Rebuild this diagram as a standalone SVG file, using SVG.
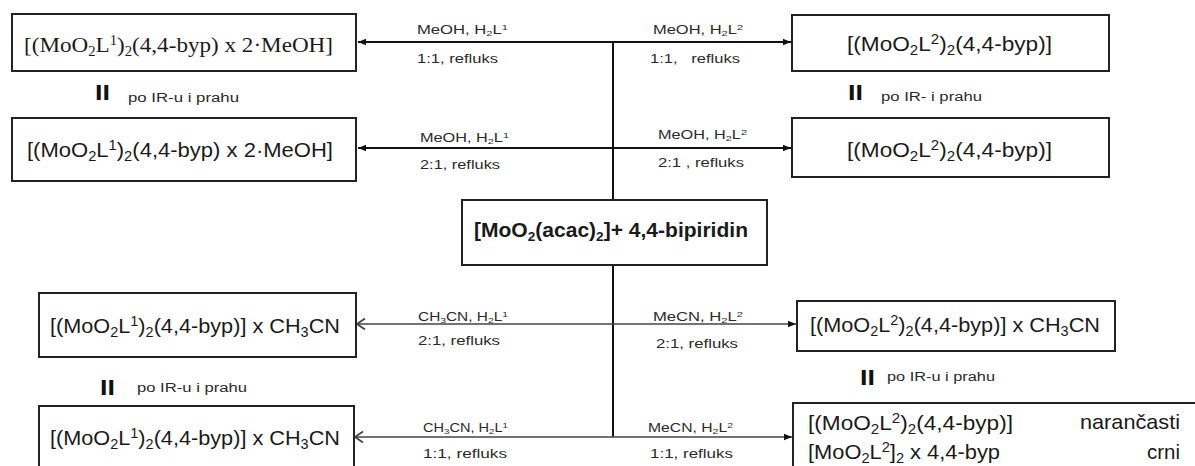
<svg xmlns="http://www.w3.org/2000/svg" width="1195" height="466" viewBox="0 0 1195 466">
<style>
.box{fill:#fff;stroke:#222;stroke-width:2}
.t{font-family:"Liberation Sans",Arial,sans-serif;font-size:21px;fill:#1a1a1a}
.s{font-family:"Liberation Serif","Times New Roman",serif;font-size:22px;fill:#1a1a1a}
.b{font-family:"Liberation Sans",Arial,sans-serif;font-size:20px;font-weight:bold;fill:#1a1a1a}
.l{font-family:"Liberation Sans",Arial,sans-serif;font-size:12px;fill:#2a2a2a}
.ii{font-family:"Liberation Sans",Arial,sans-serif;font-size:22px;font-weight:bold;fill:#111}
.c{stroke:#111;stroke-width:2;fill:none}
.c2{stroke:#444;stroke-width:1.6;fill:none}
</style>
<defs>
<marker id="af" markerUnits="userSpaceOnUse" markerWidth="9" markerHeight="8" refX="8" refY="4" orient="auto">
<path d="M0,0.8 L8,4 L0,7.2 z" fill="#111"/>
</marker>
<marker id="ao" markerUnits="userSpaceOnUse" markerWidth="12" markerHeight="14" refX="10" refY="7" orient="auto">
<path d="M2,1.5 L10,7 L2,12.5" fill="none" stroke="#444" stroke-width="1.8"/>
</marker>
</defs>

<g id="connectors">
<path class="c" d="M613,42 V200"/>
<path class="c" d="M613,42 H358" marker-end="url(#af)"/>
<path class="c" d="M613,42 H791" marker-end="url(#af)"/>
<path class="c" d="M613,148 H358" marker-end="url(#af)"/>
<path class="c" d="M613,148 H791" marker-end="url(#af)"/>
<path class="c" d="M613,265 V437"/>
<path class="c2" d="M613,324 H357" marker-end="url(#ao)"/>
<path class="c2" d="M613,324 H796" marker-end="url(#af)"/>
<path class="c2" d="M613,437 H355" marker-end="url(#ao)"/>
<path class="c2" d="M613,437 H792" marker-end="url(#af)"/>
</g>

<g id="labels">
<text class="l" x="417" y="34" textLength="91" lengthAdjust="spacingAndGlyphs">MeOH, H<tspan font-size="8" dy="2">2</tspan><tspan dy="-2">L</tspan><tspan dy="-4" font-size="8">1</tspan></text>
<text class="l" x="417" y="63" textLength="81" lengthAdjust="spacingAndGlyphs">1:1, refluks</text>
<text class="l" x="653" y="34" textLength="90" lengthAdjust="spacingAndGlyphs">MeOH, H<tspan font-size="8" dy="2">2</tspan><tspan dy="-2">L</tspan><tspan dy="-4" font-size="8">2</tspan></text>
<text class="l" x="650" y="63" textLength="90" lengthAdjust="spacingAndGlyphs" xml:space="preserve">1:1,   refluks</text>
<text class="l" x="420" y="142" textLength="89" lengthAdjust="spacingAndGlyphs">MeOH, H<tspan font-size="8" dy="2">2</tspan><tspan dy="-2">L</tspan><tspan dy="-4" font-size="8">1</tspan></text>
<text class="l" x="420" y="169" textLength="80" lengthAdjust="spacingAndGlyphs">2:1, refluks</text>
<text class="l" x="658" y="139" textLength="89" lengthAdjust="spacingAndGlyphs">MeOH, H<tspan font-size="8" dy="2">2</tspan><tspan dy="-2">L</tspan><tspan dy="-4" font-size="8">2</tspan></text>
<text class="l" x="658" y="167" textLength="86" lengthAdjust="spacingAndGlyphs">2:1 , refluks</text>
<text class="l" x="418" y="321" textLength="90" lengthAdjust="spacingAndGlyphs">CH<tspan font-size="8" dy="2">3</tspan><tspan dy="-2">CN, H</tspan><tspan font-size="8" dy="2">2</tspan><tspan dy="-2">L</tspan><tspan dy="-4" font-size="8">1</tspan></text>
<text class="l" x="418" y="345" textLength="82" lengthAdjust="spacingAndGlyphs">2:1, refluks</text>
<text class="l" x="653" y="321" textLength="90" lengthAdjust="spacingAndGlyphs">MeCN, H<tspan font-size="8" dy="2">2</tspan><tspan dy="-2">L</tspan><tspan dy="-4" font-size="8">2</tspan></text>
<text class="l" x="656" y="348" textLength="82" lengthAdjust="spacingAndGlyphs">2:1, refluks</text>
<text class="l" x="423" y="432" textLength="85" lengthAdjust="spacingAndGlyphs">CH<tspan font-size="8" dy="2">3</tspan><tspan dy="-2">CN, H</tspan><tspan font-size="8" dy="2">2</tspan><tspan dy="-2">L</tspan><tspan dy="-4" font-size="8">1</tspan></text>
<text class="l" x="423" y="458" textLength="84" lengthAdjust="spacingAndGlyphs">1:1, refluks</text>
<text class="l" x="648" y="432" textLength="85" lengthAdjust="spacingAndGlyphs">MeCN, H<tspan font-size="8" dy="2">2</tspan><tspan dy="-2">L</tspan><tspan dy="-4" font-size="8">2</tspan></text>
<text class="l" x="650" y="458" textLength="83" lengthAdjust="spacingAndGlyphs">1:1, refluks</text>
</g>

<g id="node-tl1">
<rect class="box" x="12" y="14" width="344" height="57"/>
<text class="s" x="24" y="52" textLength="309" lengthAdjust="spacingAndGlyphs">[(MoO<tspan font-size="14" dy="4">2</tspan><tspan dy="-4">L</tspan><tspan font-size="14" dy="-7">1</tspan><tspan dy="7">)</tspan><tspan font-size="14" dy="4">2</tspan><tspan dy="-4">(4,4-byp) x 2·MeOH]</tspan></text>
</g>
<g id="eq-tl">
<text class="ii" x="95" y="100" textLength="15" lengthAdjust="spacingAndGlyphs">II</text>
<text class="l" x="128" y="102" textLength="111" lengthAdjust="spacingAndGlyphs">po IR-u i prahu</text>
</g>
<g id="node-tl2">
<rect class="box" x="12" y="118" width="344" height="63"/>
<text class="t" x="27" y="157" textLength="306" lengthAdjust="spacingAndGlyphs">[(MoO<tspan font-size="14" dy="4">2</tspan><tspan dy="-4">L</tspan><tspan font-size="14" dy="-7">1</tspan><tspan dy="7">)</tspan><tspan font-size="14" dy="4">2</tspan><tspan dy="-4">(4,4-byp) x 2·MeOH]</tspan></text>
</g>

<g id="node-tr1">
<rect class="box" x="792" y="15" width="317" height="56"/>
<text class="t" x="847" y="51" textLength="205" lengthAdjust="spacingAndGlyphs">[(MoO<tspan font-size="14" dy="4">2</tspan><tspan dy="-4">L</tspan><tspan font-size="14" dy="-7">2</tspan><tspan dy="7">)</tspan><tspan font-size="14" dy="4">2</tspan><tspan dy="-4">(4,4-byp)]</tspan></text>
</g>
<g id="eq-tr">
<text class="ii" x="848" y="100" textLength="15" lengthAdjust="spacingAndGlyphs">II</text>
<text class="l" x="881" y="101" textLength="101" lengthAdjust="spacingAndGlyphs">po IR- i prahu</text>
</g>
<g id="node-tr2">
<rect class="box" x="792" y="118" width="317" height="59"/>
<text class="t" x="847" y="157" textLength="205" lengthAdjust="spacingAndGlyphs">[(MoO<tspan font-size="14" dy="4">2</tspan><tspan dy="-4">L</tspan><tspan font-size="14" dy="-7">2</tspan><tspan dy="7">)</tspan><tspan font-size="14" dy="4">2</tspan><tspan dy="-4">(4,4-byp)]</tspan></text>
</g>

<g id="node-center">
<rect class="box" x="462" y="200" width="305" height="65"/>
<text class="b" x="474" y="237" textLength="274" lengthAdjust="spacingAndGlyphs">[MoO<tspan font-size="13" dy="4">2</tspan><tspan dy="-4">(acac)</tspan><tspan font-size="13" dy="4">2</tspan><tspan dy="-4">]+ 4,4-bipiridin</tspan></text>
</g>

<g id="node-bl1">
<rect class="box" x="39" y="293" width="317" height="64"/>
<text class="t" x="50" y="333" textLength="290" lengthAdjust="spacingAndGlyphs">[(MoO<tspan font-size="14" dy="4">2</tspan><tspan dy="-4">L</tspan><tspan font-size="14" dy="-7">1</tspan><tspan dy="7">)</tspan><tspan font-size="14" dy="4">2</tspan><tspan dy="-4">(4,4-byp)] x CH</tspan><tspan font-size="14" dy="4">3</tspan><tspan dy="-4">CN</tspan></text>
</g>
<g id="eq-bl">
<text class="ii" x="100" y="395" textLength="15" lengthAdjust="spacingAndGlyphs">II</text>
<text class="l" x="137" y="392" textLength="110" lengthAdjust="spacingAndGlyphs">po IR-u i prahu</text>
</g>
<g id="node-bl2">
<rect class="box" x="39" y="406" width="315" height="70"/>
<text class="t" x="50" y="445" textLength="290" lengthAdjust="spacingAndGlyphs">[(MoO<tspan font-size="14" dy="4">2</tspan><tspan dy="-4">L</tspan><tspan font-size="14" dy="-7">1</tspan><tspan dy="7">)</tspan><tspan font-size="14" dy="4">2</tspan><tspan dy="-4">(4,4-byp)] x CH</tspan><tspan font-size="14" dy="4">3</tspan><tspan dy="-4">CN</tspan></text>
</g>

<g id="node-br1">
<rect class="box" x="797" y="301" width="318" height="50"/>
<text class="t" x="810" y="332" textLength="290" lengthAdjust="spacingAndGlyphs">[(MoO<tspan font-size="14" dy="4">2</tspan><tspan dy="-4">L</tspan><tspan font-size="14" dy="-7">2</tspan><tspan dy="7">)</tspan><tspan font-size="14" dy="4">2</tspan><tspan dy="-4">(4,4-byp)] x CH</tspan><tspan font-size="14" dy="4">3</tspan><tspan dy="-4">CN</tspan></text>
</g>
<g id="eq-br">
<text class="ii" x="860" y="385" textLength="15" lengthAdjust="spacingAndGlyphs">II</text>
<text class="l" x="887" y="381" textLength="108" lengthAdjust="spacingAndGlyphs">po IR-u i prahu</text>
</g>
<g id="node-br2">
<rect class="box" x="793" y="403" width="420" height="80"/>
<text class="t" x="808" y="430" textLength="205" lengthAdjust="spacingAndGlyphs">[(MoO<tspan font-size="14" dy="4">2</tspan><tspan dy="-4">L</tspan><tspan font-size="14" dy="-7">2</tspan><tspan dy="7">)</tspan><tspan font-size="14" dy="4">2</tspan><tspan dy="-4">(4,4-byp)]</tspan></text>
<text class="t" x="1080" y="429" textLength="100" lengthAdjust="spacingAndGlyphs">narančasti</text>
<text class="t" x="808" y="459" textLength="192" lengthAdjust="spacingAndGlyphs">[MoO<tspan font-size="14" dy="4">2</tspan><tspan dy="-4">L</tspan><tspan font-size="14" dy="-7">2</tspan><tspan dy="7">]</tspan><tspan font-size="14" dy="4">2</tspan><tspan dy="-4"> x 4,4-byp</tspan></text>
<text class="t" x="1147" y="459" textLength="33" lengthAdjust="spacingAndGlyphs">crni</text>
</g>
</svg>
